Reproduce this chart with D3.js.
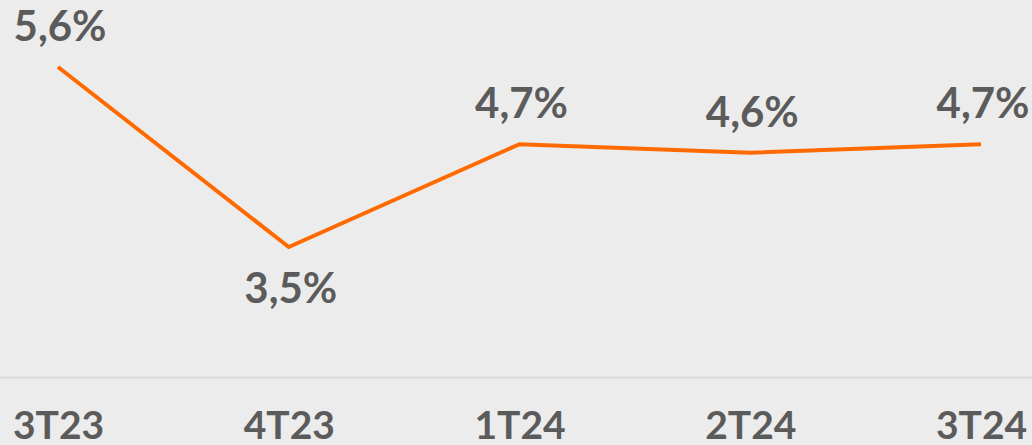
<!DOCTYPE html>
<html>
<head>
<meta charset="utf-8">
<script src="https://cdn.jsdelivr.net/npm/d3@7"></script>
<style>
  html, body { margin: 0; padding: 0; background: #ececec; }
  svg { display: block; }
  text { font-family: Lato, "Open Sans", sans-serif; font-weight: 700; fill: #5b5b5b; }
</style>
</head>
<body>
<script>
var quarters = ['3T23', '4T23', '1T24', '2T24', '3T24']
var rates = [5.6, 3.5, 4.7, 4.6, 4.7]

var width = 1032
var height = 445

var svg = d3.select('body')
    .append('svg')
    .attr('width', width)
    .attr('height', height)

var x = d3.scalePoint()
    .domain(quarters)
    .range([58, 981])

var y = d3.scaleLinear()
    .domain([3.5, 5.6])
    .range([247, 67])

// linha de base do eixo
svg.append('line')
    .attr('x1', 0)
    .attr('x2', width)
    .attr('y1', 377.5)
    .attr('y2', 377.5)
    .attr('stroke', '#d9d9d9')
    .attr('stroke-width', 2)

var xAxis = svg.append('g')
    .attr('transform', 'translate(0,' + 377 + ')')
    .call(d3.axisBottom(x).tickSize(0).tickPadding(0))

xAxis.select('.domain').remove()
xAxis.selectAll('text')
    .attr('y', 62)
    .attr('dy', null)
    .style('font-size', '39px')
    .attr('fill', '#5b5b5b')
    .attr('font-family', 'Lato, sans-serif')
    .attr('font-weight', 700)

var line = d3.line()
    .x((d, i) => x(quarters[i]))
    .y(d => y(d))

svg.append('path')
    .datum(rates)
    .attr('d', line)
    .attr('fill', 'none')
    .attr('stroke', '#ff6a00')
    .attr('stroke-width', 4)

// só o menor valor leva o rótulo abaixo do ponto
var minRate = d3.min(rates)

svg.selectAll('text.label')
    .data(rates)
    .enter()
    .append('text')
    .attr('class', 'label')
    .attr('x', (d, i) => x(quarters[i]) + 2)
    .attr('y', d => d === minRate ? y(d) + 56 : y(d) - 26)
    .attr('text-anchor', 'middle')
    .style('font-size', '42px')
    .text(d => d.toFixed(1).replace('.', ',') + '%')
</script>
</body>
</html>
